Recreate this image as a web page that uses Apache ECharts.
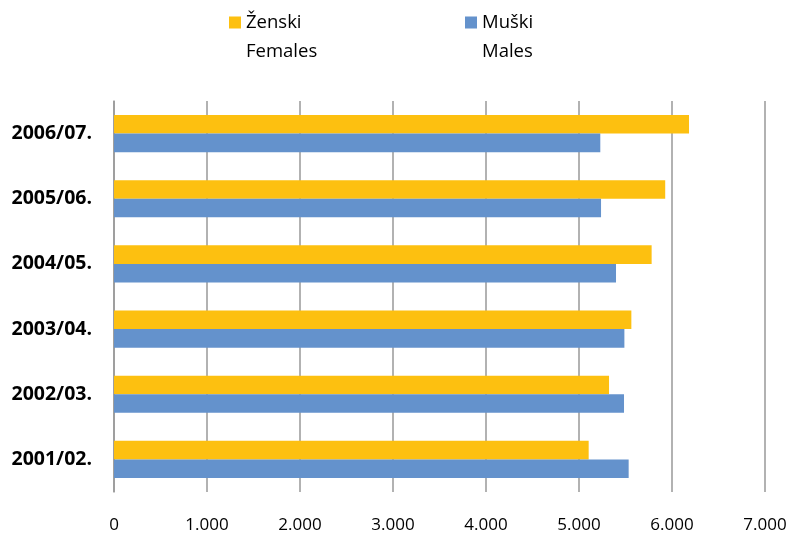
<!DOCTYPE html>
<html>
<head>
<meta charset="utf-8">
<script src="https://cdn.jsdelivr.net/npm/echarts@6/dist/echarts.min.js"></script>
<style>
  html, body { margin: 0; padding: 0; background: #fff; }
</style>
</head>
<body>
<div id="main" style="width: 791px;height:537px;"></div>
<script>
// categories bottom -> top
var years = ['2001/02.', '2002/03.', '2003/04.', '2004/05.', '2005/06.', '2006/07.'];
var females = [5104, 5323, 5563, 5781, 5927, 6183];
var males = [5534, 5484, 5488, 5398, 5237, 5229];

var femaleName = 'Ženski\nFemales';
var maleName = 'Muški\nMales';

// square in top part of a tall box, so the icon sits next to the first text line
var legendIcon = 'path://M0,0L12,0L12,12L0,12Z M0,40.9L0.05,41L0,41Z';

var chartDom = document.getElementById('main');
var myChart = echarts.init(chartDom);
var option;

function legendCfg(name, left) {
  return {
    data: [name],
    left: left,
    top: 8,
    padding: 0,
    icon: legendIcon,
    itemWidth: 12,
    itemHeight: 41,
    itemGap: 0,
    selectedMode: false,
    textStyle: {
      fontFamily: 'Open Sans',
      fontSize: 18.5,
      lineHeight: 29,
      color: '#000'
    }
  };
}

option = {
  animation: false,
  backgroundColor: '#fff',
  legend: [legendCfg(femaleName, 229), legendCfg(maleName, 465)],
  grid: {
    left: 114,
    right: 26,
    top: 101,
    bottom: 45,
    containLabel: false
  },
  xAxis: {
    type: 'value',
    min: 0,
    max: 7000,
    interval: 1000,
    axisLine: { show: false },
    axisTick: { show: false },
    splitLine: {
      lineStyle: { color: '#999', width: 1.5 }
    },
    axisLabel: {
      margin: 25,
      color: '#000',
      fontFamily: 'Open Sans',
      fontSize: 17,
      formatter: function (v) {
        return String(v).replace(/\B(?=(\d{3})+(?!\d))/g, '.');
      }
    }
  },
  yAxis: {
    type: 'category',
    data: years,
    axisLine: { show: true, lineStyle: { color: '#999', width: 1.5 } },
    axisTick: { show: false },
    axisLabel: {
      margin: 22,
      color: '#000',
      fontFamily: 'Open Sans',
      fontWeight: 'bold',
      fontSize: 19.5
    }
  },
  series: [
    {
      name: femaleName,
      type: 'bar',
      data: females,
      barGap: '0%',
      barCategoryGap: '43%',
      itemStyle: { color: '#FDC010' }
    },
    {
      name: maleName,
      type: 'bar',
      data: males,
      barGap: '0%',
      barCategoryGap: '43%',
      itemStyle: { color: '#6492CC' }
    }
  ]
};

option && myChart.setOption(option);
</script>
</body>
</html>
